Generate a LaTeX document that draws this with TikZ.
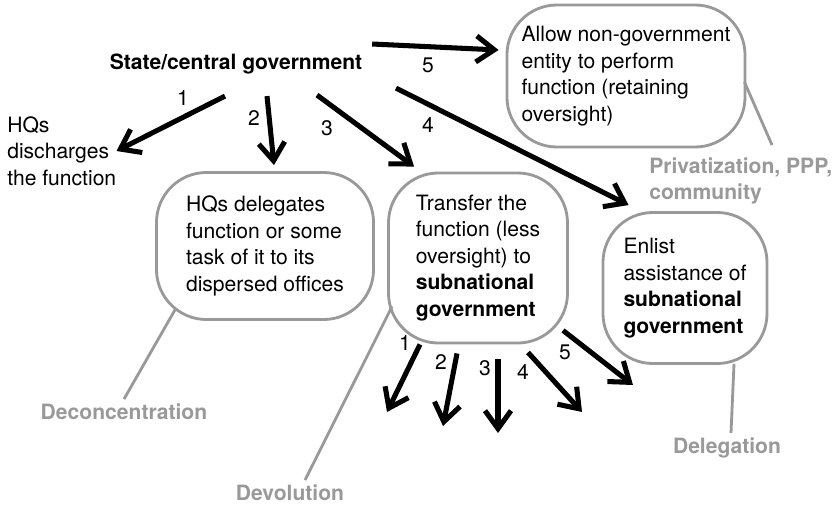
\documentclass[tikz,border=0pt]{standalone}
\usepackage{fontspec}
\setmainfont{TeX Gyre Heros}
\usetikzlibrary{arrows.meta}
\definecolor{tone}{gray}{0.6}
\tikzset{
        every node/.style={font=\fontsize{15}{18.8}\selectfont},
        >={Straight Barb[length=4.5mm,width=6.5mm]},
        push/.style={->,line width=3.6pt},
        blob/.style={draw=tone,line width=2pt,rounded corners=1.25cm,align=left},
        tag/.style={text=tone,font=\fontsize{15}{18.8}\selectfont\bfseries},
        lead/.style={draw=tone,line width=2pt},
        num/.style={inner sep=1pt}
        }

\begin{document}
\begin{tikzpicture}[x=0.025cm,y=-0.025cm]
    % page frame, one unit is one pixel of the reference
    \useasboundingbox (0,0) rectangle (835,506);

    % the state and what it can do
    \node[font=\fontsize{15}{18.8}\selectfont\bfseries] (state) at (236,64) {State/central government};
    \node[align=left,anchor=west,inner sep=0pt] (hq) at (7,151) {HQs\\discharges\\the function};
    \node[blob,minimum width=5.425cm,minimum height=3.675cm] (offices) at (265,246)
        {HQs delegates\\function or some\\task of it to its\\dispersed offices};
    \node[blob,minimum width=4.475cm,minimum height=4.25cm] (transfer) at (478,258)
        {Transfer the\\function (less\\oversight) to\\\textbf{subnational}\\\textbf{government}};
    \node[blob,minimum width=5.95cm,minimum height=3.55cm] (private) at (626,76)
        {Allow non-government\\entity to perform\\function (retaining\\oversight)};
    \node[blob,minimum width=4.1cm,minimum height=3.775cm] (enlist) at (685,288)
        {Enlist\\assistance of\\\textbf{subnational}\\\textbf{government}};

    % grey names of the ways
    \node[tag] (deconc) at (124,412) {Deconcentration};
    \node[tag] (devol) at (290,493) {Devolution};
    \node[tag] (delegation) at (727,448) {Delegation};
    \node[tag,align=left,anchor=west,inner sep=0pt] (privat) at (649,181) {Privatization, PPP,\\community};
    \coordinate (privend) at (772,145);

    % grey leads from the boxes to their names
    \draw[lead] ([shift={(21,-13)}]offices.south west) -- (deconc.north);
    \draw[lead] ([shift={(5,-38)}]transfer.south west) -- ([xshift=0.375cm]devol.north);
    \draw[lead] ([shift={(49,-1)}]enlist.south) -- ([xshift=0.1cm]delegation.north);
    \draw[lead] ([shift={(-2,6)}]private.east) -- (privend);

    % five arrows from the state
    \draw[push] ([shift={(-11,17)}]state.south) -- (hq.east);
    \draw[push] ([shift={(31,17)}]state.south) -- ([shift={(9,-6)}]offices.north);
    \draw[push] ([shift={(81,16)}]state.south) -- ([shift={(27,-5)}]transfer.north west);
    \draw[push] ([shift={(160,9)}]state.south) -- ([shift={(27,-6)}]enlist.north west);
    \draw[push] ([shift={(5,-20)}]state.east) -- ([shift={(-7,-26)}]private.west);
    \node[num] (n1) at (183,98) {1};
    \node[num] (n2) at (254,118) {2};
    \node[num] (n3) at (327,128) {3};
    \node[num] (n4) at (428,125) {4};
    \node[num] (n5) at (428,65) {5};

    % the same five again below the subnational government
    \coordinate (e1) at (387,412);
    \coordinate (e2) at (443,426);
    \coordinate (e3) at (498,433);
    \coordinate (e4) at (582,412);
    \coordinate (e5) at (633,385);
    \draw[push] ([shift={(-58,0)}]transfer.south) -- (e1);
    \draw[push] ([shift={(-21,9)}]transfer.south) -- (e2);
    \draw[push] ([shift={(20,15)}]transfer.south) -- (e3);
    \draw[push] ([shift={(50,8)}]transfer.south) -- (e4);
    \draw[push] ([shift={(85,-14)}]transfer.south) -- (e5);
    \node[num] (m1) at (405,343) {1};
    \node[num] (m2) at (441,362) {2};
    \node[num] (m3) at (485,368) {3};
    \node[num] (m4) at (523,372) {4};
    \node[num] (m5) at (565,352) {5};
\end{tikzpicture}
\end{document}
